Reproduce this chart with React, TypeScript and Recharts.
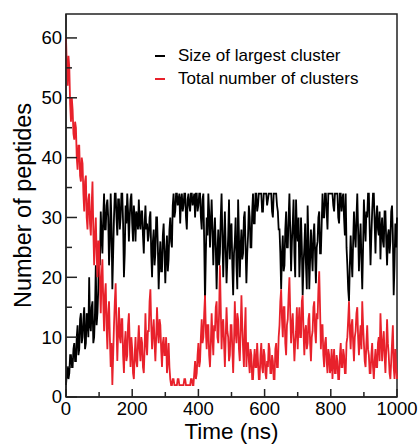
import { LineChart, Line, XAxis, YAxis, ReferenceArea } from 'recharts';

// time step of the trajectory (ns)
const STEP = 2.5;

const SERIES_NAMES = ['Size of largest cluster', 'Total number of clusters'];
const SERIES_COLORS = ['#000000', '#e8212b'];

const X_TICKS = [0, 100, 200, 300, 400, 500, 600, 700, 800, 900, 1000];
const Y_TICKS = [0, 5, 10, 15, 20, 25, 30, 35, 40, 45, 50, 55, 60];

const largestCluster = [
    2, 4, 5, 3, 4, 7, 7, 5, 5, 8, 9, 6, 6, 10, 12, 7, 8, 13, 14, 9,
    10, 13, 15, 8, 9, 14, 13, 10, 20, 12, 11, 15, 16, 9, 10, 14, 22, 12, 14, 18,
    26, 22, 31, 27, 24, 30, 34, 28, 28, 32, 33, 30, 22, 26, 34, 29, 18, 24, 30, 34,
    34, 30, 27, 33, 33, 28, 30, 34, 34, 29, 20, 24, 32, 29, 34, 31, 26, 30, 33, 34,
    29, 26, 32, 30, 26, 31, 30, 28, 33, 29, 28, 31, 31, 27, 24, 29, 32, 28, 29, 26,
    27, 30, 31, 24, 20, 26, 28, 22, 24, 30, 30, 25, 18, 23, 26, 21, 21, 27, 29, 24,
    19, 24, 27, 21, 23, 28, 30, 26, 25, 32, 34, 30, 31, 34, 34, 32, 33, 34, 29, 33,
    34, 31, 32, 34, 34, 30, 28, 33, 34, 32, 31, 34, 34, 32, 33, 34, 30, 34, 34, 31,
    32, 34, 34, 30, 28, 33, 34, 26, 16, 24, 30, 27, 34, 31, 25, 29, 33, 28, 22, 27,
    30, 25, 18, 24, 28, 22, 24, 30, 34, 27, 20, 26, 31, 25, 19, 23, 27, 33, 23, 28,
    29, 22, 17, 24, 26, 30, 22, 18, 33, 27, 20, 25, 28, 23, 24, 30, 31, 25, 19, 24,
    27, 32, 30, 25, 25, 31, 34, 29, 29, 34, 34, 31, 32, 34, 34, 34, 34, 31, 31, 34,
    34, 34, 34, 32, 33, 34, 34, 34, 34, 31, 30, 34, 34, 34, 34, 32, 31, 28, 28, 24,
    18, 24, 27, 21, 22, 28, 31, 25, 25, 30, 34, 28, 21, 26, 29, 33, 24, 20, 33, 28,
    26, 30, 20, 24, 30, 25, 17, 22, 25, 29, 22, 18, 32, 26, 18, 23, 28, 24, 21, 27,
    29, 24, 19, 25, 26, 30, 31, 24, 24, 29, 34, 30, 30, 34, 34, 31, 28, 34, 34, 34,
    34, 34, 34, 32, 31, 34, 34, 34, 34, 30, 29, 34, 34, 31, 33, 34, 30, 27, 34, 25,
    22, 18, 16, 22, 27, 23, 20, 26, 31, 27, 25, 30, 34, 28, 21, 26, 29, 23, 18, 25,
    33, 29, 26, 31, 30, 34, 34, 28, 22, 27, 31, 34, 34, 29, 24, 30, 32, 28, 27, 31,
    23, 28, 30, 26, 25, 31, 31, 26, 22, 27, 28, 24, 26, 31, 32, 27, 17, 22, 29, 25,
    30
];

const totalClusters = [
    60, 55, 52, 57, 55, 49, 46, 50, 48, 44, 43, 46, 45, 40, 38, 42, 42, 37, 36, 40,
    39, 34, 31, 36, 37, 30, 28, 33, 34, 29, 27, 32, 36, 28, 22, 27, 30, 24, 20, 26,
    26, 19, 14, 20, 23, 16, 11, 17, 19, 12, 8, 14, 16, 10, 5, 9, 2, 7, 12, 16,
    19, 12, 6, 11, 15, 10, 9, 13, 13, 7, 4, 9, 11, 6, 7, 12, 14, 9, 5, 10,
    8, 4, 3, 7, 10, 6, 5, 9, 12, 8, 6, 10, 9, 5, 4, 8, 14, 9, 7, 11,
    11, 16, 18, 12, 8, 11, 13, 9, 6, 10, 15, 11, 9, 13, 12, 8, 5, 9, 10, 7,
    7, 10, 4, 6, 9, 5, 3, 2, 2, 3, 3, 2, 2, 2, 2, 3, 3, 2, 2, 2,
    2, 2, 2, 3, 3, 2, 2, 2, 2, 2, 2, 3, 3, 2, 2, 4, 6, 3, 4, 7,
    9, 5, 6, 10, 13, 9, 10, 14, 17, 11, 8, 12, 12, 7, 5, 9, 14, 10, 7, 12,
    11, 15, 16, 10, 9, 14, 22, 15, 8, 12, 13, 9, 5, 10, 15, 11, 10, 6, 7, 12,
    12, 8, 4, 9, 16, 11, 9, 14, 13, 8, 6, 11, 17, 12, 8, 5, 11, 15, 5, 9,
    9, 6, 4, 8, 7, 3, 3, 6, 8, 5, 5, 9, 6, 3, 3, 7, 9, 5, 4, 8,
    7, 4, 3, 6, 5, 9, 8, 4, 4, 7, 6, 3, 3, 8, 9, 5, 5, 10, 12, 16,
    18, 13, 10, 15, 15, 9, 7, 12, 13, 17, 20, 14, 9, 12, 14, 10, 6, 9, 11, 15,
    8, 12, 15, 10, 10, 16, 17, 11, 7, 11, 12, 8, 9, 13, 14, 9, 6, 10, 11, 15,
    16, 11, 9, 14, 13, 18, 21, 15, 8, 12, 12, 7, 5, 9, 10, 6, 4, 8, 7, 4,
    5, 8, 3, 6, 8, 4, 4, 7, 6, 3, 3, 7, 9, 5, 5, 8, 7, 4, 4, 9,
    10, 13, 16, 11, 8, 12, 13, 9, 6, 10, 11, 14, 15, 10, 7, 10, 12, 8, 16, 12,
    9, 6, 5, 9, 12, 8, 7, 4, 4, 7, 9, 5, 3, 6, 8, 5, 5, 9, 10, 6,
    14, 10, 6, 9, 11, 7, 4, 8, 13, 9, 7, 4, 3, 6, 9, 12, 5, 3, 8, 5,
    3
];

const data = largestCluster.map((v, i) => ({
    t: i * STEP,
    largest: v,
    total: totalClusters[i]
}));

const FONT = '"Liberation Sans", Arial, sans-serif';
const AXIS_COLOR = '#222';

const XTick = (props: any) => {
    const { x, y, payload } = props;
    const major = payload.value % 200 === 0;
    return (
        <g>
            <line x1={x} x2={x} y1={y} y2={y - (major ? 8 : 5)} stroke={AXIS_COLOR} strokeWidth={1.5} />
            {major && (
                <text x={x} y={y + 18} textAnchor="middle" fontSize={18.5} fontFamily={FONT} fill="#000">
                    {payload.value}
                </text>
            )}
        </g>
    );
};

const YTick = (props: any) => {
    const { x, y, payload } = props;
    const major = payload.value % 10 === 0;
    return (
        <g>
            <line x1={x} x2={x + (major ? 11 : 6)} y1={y} y2={y} stroke={AXIS_COLOR} strokeWidth={1.5} />
            {major && (
                <text x={x - 4} y={y} dy="0.35em" textAnchor="end" fontSize={18.5} fontFamily={FONT} fill="#000">
                    {payload.value}
                </text>
            )}
        </g>
    );
};

const App = () => {
    return (
        <div style={{ position: 'absolute', left: 0, top: 0, width: 420, height: 444, background: '#fff' }}>
            <LineChart width={420} height={444} data={data} margin={{ top: 14, right: 23, bottom: 0, left: 0 }}>
                <XAxis
                    dataKey="t"
                    type="number"
                    domain={[0, 1000]}
                    ticks={X_TICKS}
                    height={47}
                    tickSize={0}
                    tickMargin={0}
                    tickLine={false}
                    tick={<XTick />}
                    axisLine={{ stroke: AXIS_COLOR, strokeWidth: 1.5 }}
                    label={{
                        content: (p: any) => {
                            const vb = p.viewBox;
                            return (
                                <text x={vb.x + vb.width / 2} y={439} textAnchor="middle" fontSize={22.5} fontFamily={FONT} fill="#000">
                                    Time (ns)
                                </text>
                            );
                        }
                    }}
                />
                <YAxis
                    type="number"
                    domain={[0, 64]}
                    ticks={Y_TICKS}
                    width={66}
                    tickSize={0}
                    tickMargin={0}
                    tickLine={false}
                    tick={<YTick />}
                    allowDataOverflow
                    axisLine={{ stroke: AXIS_COLOR, strokeWidth: 1.5 }}
                    label={{
                        content: (p: any) => {
                            const vb = p.viewBox;
                            const cy = vb.y + vb.height / 2;
                            return (
                                <text x={23} y={cy} dy="0.35em" transform={`rotate(-90, 23, ${cy})`} textAnchor="middle" fontSize={23.5} fontFamily={FONT} fill="#000">
                                    Number of peptides
                                </text>
                            );
                        }
                    }}
                />
                <ReferenceArea x1={0} x2={1000} y1={0} y2={64} fill="none" stroke={AXIS_COLOR} strokeWidth={1.5} ifOverflow="visible" />
                <Line type="linear" dataKey="largest" name={SERIES_NAMES[0]} stroke={SERIES_COLORS[0]} strokeWidth={1.8} dot={false} isAnimationActive={false} />
                <Line type="linear" dataKey="total" name={SERIES_NAMES[1]} stroke={SERIES_COLORS[1]} strokeWidth={1.8} dot={false} isAnimationActive={false} />
            </LineChart>
            {SERIES_NAMES.map((name, i) => (
                <div
                    key={name}
                    style={{
                        position: 'absolute',
                        left: 155,
                        top: 45 + i * 23,
                        height: 22,
                        display: 'flex',
                        alignItems: 'center',
                        fontFamily: FONT,
                        fontSize: 17,
                        color: '#000',
                        whiteSpace: 'nowrap'
                    }}
                >
                    <span style={{ display: 'inline-block', width: 10, height: 2, background: SERIES_COLORS[i], marginRight: 13 }} />
                    {name}
                </div>
            ))}
        </div>
    );
};

export default App;
